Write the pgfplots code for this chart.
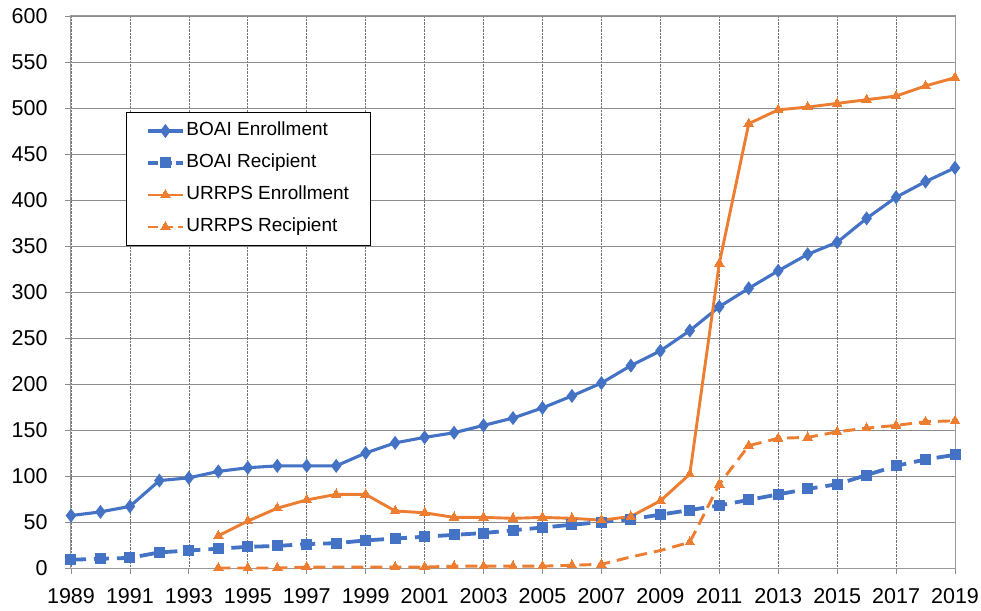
\documentclass[border=0pt]{standalone}
\usepackage{pgfplots}
\pgfplotsset{compat=1.18}
\usepackage{fontspec}
\setmainfont{Liberation Sans}
\definecolor{xblue}{HTML}{4472C4}
\definecolor{xorange}{HTML}{ED7D31}
\begin{document}
\begin{tikzpicture}
\useasboundingbox (-71pt,-42pt) rectangle (910pt,568pt);
\begin{axis}[
  at={(0,0)}, anchor=south west,
  width=884pt, height=552pt, scale only axis,
  xmin=1989, xmax=2019, ymin=0, ymax=600,
  xtick={1989,1991,...,2019}, ytick={0,50,...,600},
  xticklabel style={/pgf/number format/1000 sep={}, yshift=-11pt},
  yticklabel style={xshift=-14pt},
  /pgf/number format/assume math mode=true,
  tick label style={font=\fontsize{21.5}{25}\selectfont, black},
  grid=major,
  x grid style={densely dotted, black!55, line width=0.7pt},
  y grid style={black!45, line width=0.9pt},
  axis line style={black!40, line width=1pt},
  tick style={black!45, line width=0.8pt},
  xtick pos=bottom, ytick pos=left,
  tick align=outside, major tick length=6pt,
  clip=false,
  legend cell align=left,
  legend style={at={(rel axis cs:0.0622,0.826)}, anchor=north west,
    draw=black, font=\fontsize{19}{22}\selectfont,
    row sep=13pt, inner xsep=20pt, inner ysep=9pt,
    nodes={inner sep=1.5pt, text height=13pt, text depth=3pt}},
  every axis legend/.append style={line width=0.9pt},
  legend image code/.code={
    \draw[mark repeat=2,mark phase=2] plot coordinates {(0cm,0cm) (0.6cm,0cm) (1.22cm,0cm)};},
]
\addlegendimage{xblue, line width=3.1pt, mark=diamond*, mark size=4.5pt, mark options={solid}}
\addlegendentry{BOAI Enrollment}
\addlegendimage{xblue, line width=3.8pt, dash pattern=on 10pt off 4pt, mark=square*, mark size=5pt, mark options={solid, line width=0pt}}
\addlegendentry{BOAI Recipient}
\addlegendimage{xorange, line width=2.9pt, mark=triangle*, mark size=5.5pt, mark options={solid, line width=0pt}}
\addlegendentry{URRPS Enrollment}
\addlegendimage{xorange, line width=2.9pt, dash pattern=on 10pt off 5pt, mark=triangle*, mark size=5.5pt, mark options={solid, line width=0pt}}
\addlegendentry{URRPS Recipient}
\addplot[xblue, line width=3.1pt, mark=diamond*, mark size=4.5pt, mark options={solid}, forget plot]
coordinates {
(1989,57) (1990,61) (1991,67) (1992,95) (1993,98) (1994,105) (1995,109) (1996,111)
(1997,111) (1998,111) (1999,125) (2000,136) (2001,142) (2002,147) (2003,155) (2004,163)
(2005,174) (2006,187) (2007,201) (2008,220) (2009,236) (2010,258) (2011,284) (2012,304)
(2013,323) (2014,341) (2015,354) (2016,380) (2017,403) (2018,420) (2019,435)};
\addplot[xblue, line width=3.8pt, dash pattern=on 15pt off 8pt, mark=square*, mark size=5pt, mark options={solid, line width=0pt}, forget plot]
coordinates {
(1989,9) (1990,10) (1991,11) (1992,17) (1993,19) (1994,21) (1995,23) (1996,24)
(1997,26) (1998,27) (1999,30) (2000,32) (2001,34) (2002,36) (2003,38) (2004,41)
(2005,44) (2006,47) (2007,50) (2008,53) (2009,58) (2010,63) (2011,68) (2012,74)
(2013,80) (2014,86) (2015,91) (2016,101) (2017,111) (2018,118) (2019,123)};
\addplot[xorange, line width=2.9pt, mark=triangle*, mark size=5.5pt, mark options={solid, line width=0pt}, forget plot]
coordinates {
(1994,35) (1995,51) (1996,65) (1997,74) (1998,80) (1999,80) (2000,62) (2001,60)
(2002,55) (2003,55) (2004,54) (2005,55) (2006,54) (2007,52) (2008,56) (2009,73)
(2010,102) (2011,331) (2012,483) (2013,498) (2014,501) (2015,505) (2016,509)
(2017,513) (2018,524) (2019,533)};
\addplot[xorange, line width=2.9pt, dash pattern=on 12pt off 7pt, forget plot]
coordinates {
(1994,0) (1995,0) (1996,0) (1997,1) (1998,1) (1999,1) (2000,1) (2001,1)
(2002,2) (2003,2) (2004,2) (2005,2) (2006,3) (2007,4) (2008,12) (2009,19)
(2010,28) (2011,91) (2012,133) (2013,141) (2014,142) (2015,148) (2016,152)
(2017,155) (2018,159) (2019,160)};
\addplot[xorange, only marks, mark=triangle*, mark size=5.5pt, mark options={line width=0pt}, forget plot]
coordinates {
(1994,0) (1995,0) (1996,0) (1997,1) (2000,1) (2001,1)
(2002,2) (2003,2) (2004,2) (2005,2) (2006,3) (2007,4)
(2010,28) (2011,91) (2012,133) (2013,141) (2014,142) (2015,148) (2016,152)
(2017,155) (2018,159) (2019,160)};
\end{axis}
\end{tikzpicture}
\end{document}
